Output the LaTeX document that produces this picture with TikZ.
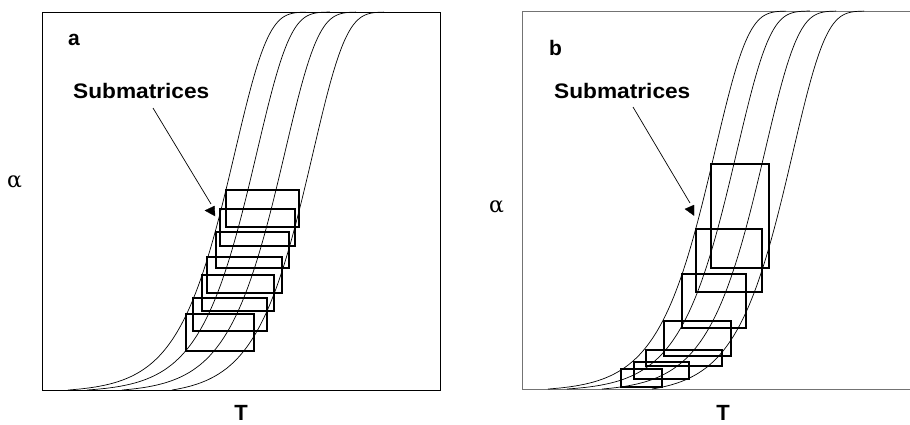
\documentclass[tikz,border=0pt]{standalone}
\usepackage{fontspec}
\setmainfont{Liberation Serif}
\setsansfont{Liberation Sans}
\newfontfamily\alphafont{DejaVu Serif}
\usepackage{graphicx}
\tikzset{
  frameA/.style={draw=black, line width=0.9pt},
  frameB/.style={draw=black!55, line width=0.9pt},
  curve/.style={draw=black, line width=0.7pt},
  subbox/.style={draw=black, line width=1.8pt},
  pointer/.style={draw=black, line width=0.7pt},
  headtri/.style={fill=black, draw=black, line width=0.3pt},
  panellbl/.style={inner sep=0pt, font=\sffamily\bfseries\fontsize{21}{21}\selectfont},
  sublbl/.style={inner sep=0pt, font=\sffamily\bfseries\fontsize{21}{21}\selectfont},
  alphalbl/.style={inner sep=0pt, font=\alphafont\fontsize{22}{22}\selectfont},
  tlbl/.style={inner sep=0pt, font=\sffamily\bfseries\fontsize{22}{22}\selectfont},
}
\newcommand\sigcurve[3]{%
  \pgfmathsetmacro\gzero{1-exp(-exp((#2-#1)/33))}%
  \draw[curve] plot[domain=#2:#3, samples=160, smooth]
    (\x, {390-378*(1-exp(-exp((\x-#1)/33))-\gzero)/(1-\gzero)});%
}
\begin{document}
\begin{tikzpicture}[x=1pt, y=-1pt]
\useasboundingbox (0,0) rectangle (910,424);

% ---------- panel a ----------
\draw[frameA] (42,12) rectangle (440,390);
\sigcurve{235}{68}{306}
\sigcurve{257}{87}{330}
\sigcurve{285}{122}{356}
\sigcurve{313}{172}{384}

\draw[subbox] (226,190) rectangle (299,227);
\draw[subbox] (220,209) rectangle (295,246);
\draw[subbox] (216,232) rectangle (289,268);
\draw[subbox] (207,257) rectangle (282,293);
\draw[subbox] (202,275) rectangle (274,311);
\draw[subbox] (193,298) rectangle (267,331);
\draw[subbox] (186,314) rectangle (254,351);

\node[panellbl, anchor=base west] (la) at (68,45) {a};
\node[sublbl, anchor=base west] (suba) at (73,98) {\scalebox{1.08}[1]{Submatrices}};
\coordinate (suba-start) at (153,108);
\coordinate (suba-end) at (211,204);
\draw[pointer] (suba-start) -- (suba-end);
\fill[headtri] (205,210.5) -- (214.5,206) -- (215,216) -- cycle;
\node[alphalbl, anchor=base west] (alphaa) at (7,187) {α};
\node[tlbl, anchor=base] (ta) at (241,420) {T};

% ---------- panel b ----------
\draw[frameB] (910,11) -- (522,11) -- (522,389) -- (910,389);
\begin{scope}[shift={(480,-1)}]
\sigcurve{235}{68}{306}
\sigcurve{257}{87}{330}
\sigcurve{285}{122}{356}
\sigcurve{313}{172}{384}
\end{scope}

\draw[subbox] (711,164) rectangle (769,268);
\draw[subbox] (696,229) rectangle (762,292);
\draw[subbox] (682,274) rectangle (746,328);
\draw[subbox] (664,321) rectangle (731,356);
\draw[subbox] (646,350) rectangle (722,366);
\draw[subbox] (634,362) rectangle (689,379);
\draw[subbox] (621,369) rectangle (662,387);

\node[panellbl, anchor=base west] (lb) at (549,55) {b};
\node[sublbl, anchor=base west] (subb) at (554,98) {\scalebox{1.08}[1]{Submatrices}};
\coordinate (subb-start) at (633,107);
\coordinate (subb-end) at (690,203);
\draw[pointer] (subb-start) -- (subb-end);
\fill[headtri] (685,209) -- (694,205) -- (694,215.5) -- cycle;
\node[alphalbl, anchor=base west] (alphab) at (489,212) {α};
\node[tlbl, anchor=base] (tb) at (723,420) {T};
\end{tikzpicture}
\end{document}
